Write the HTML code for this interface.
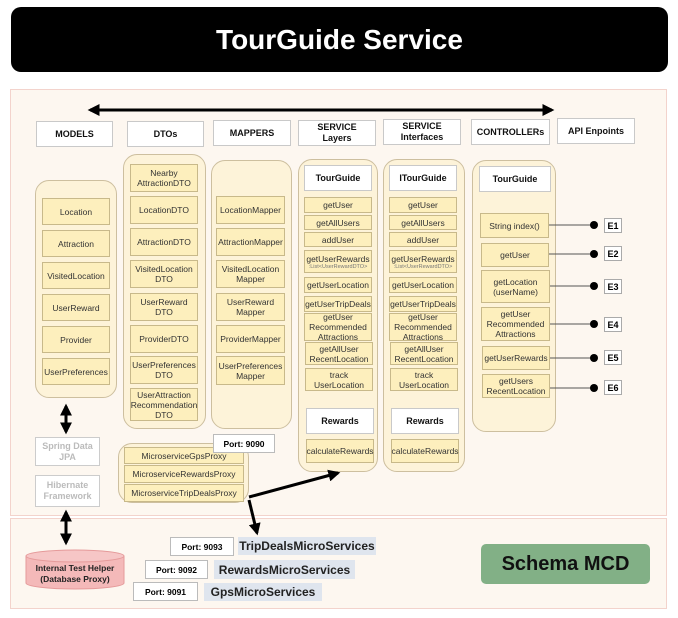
<!DOCTYPE html>
<html><head><meta charset="utf-8"><style>
body{margin:0;width:678px;height:618px;background:#fff;position:relative;overflow:hidden;font-family:"Liberation Sans",Arial,sans-serif}
div{position:absolute;box-sizing:border-box}
.c{display:flex;align-items:center;justify-content:center;text-align:center}
.h{background:#fff;border:1.5px solid #c9c9c9;font-weight:bold;font-size:9px;color:#111;line-height:11px}
.ct{background:#fdf3d9;border:1px solid #cdbf9f;border-radius:14px}
.b{background:#fdefbd;border:1.5px solid #c8b98a;font-size:8.5px;color:#333;line-height:10px}
.e{background:#fff;border:1.5px solid #aaa;font-size:9px;font-weight:bold;width:18px;height:15px}
.p{background:#fff;border:1.5px solid #bbb;font-size:8.5px;font-weight:bold}
.ms{background:#dfe5ee;font-size:12px;font-weight:bold;color:#222}
</style></head><body>
<div class="c" style="left:11px;top:7px;width:657px;height:65px;background:#000;border-radius:10px;color:#fff;font-weight:bold;font-size:28px">TourGuide Service</div>
<div style="left:10px;top:89px;width:657px;height:427px;background:#fdf7f0;border:1.5px solid #f3d3cc"></div>
<div style="left:10px;top:518px;width:657px;height:91px;background:#fdf7f0;border:1.5px solid #f3d3cc"></div>

<div class="c h" style="left:36px;top:121px;width:77px;height:26px">MODELS</div>
<div class="c h" style="left:127px;top:121px;width:77px;height:26px">DTOs</div>
<div class="c h" style="left:213px;top:120px;width:78px;height:26px">MAPPERS</div>
<div class="c h" style="left:298px;top:120px;width:78px;height:26px">SERVICE<br>Layers</div>
<div class="c h" style="left:383px;top:119px;width:78px;height:26px">SERVICE<br>Interfaces</div>
<div class="c h" style="left:471px;top:119px;width:79px;height:26px">CONTROLLERs</div>
<div class="c h" style="left:557px;top:118px;width:78px;height:26px">API Enpoints</div>

<div class="ct" style="left:35px;top:180px;width:82px;height:218px"></div>
<div class="c b" style="left:42px;top:198px;width:68px;height:27px">Location</div>
<div class="c b" style="left:42px;top:230px;width:68px;height:27px">Attraction</div>
<div class="c b" style="left:42px;top:262px;width:68px;height:27px">VisitedLocation</div>
<div class="c b" style="left:42px;top:294px;width:68px;height:27px">UserReward</div>
<div class="c b" style="left:42px;top:326px;width:68px;height:27px">Provider</div>
<div class="c b" style="left:42px;top:358px;width:68px;height:27px">UserPreferences</div>

<div class="ct" style="left:123px;top:154px;width:83px;height:275px"></div>
<div class="c b" style="left:130px;top:164px;width:68px;height:28px">Nearby<br>AttractionDTO</div>
<div class="c b" style="left:130px;top:196px;width:68px;height:28px">LocationDTO</div>
<div class="c b" style="left:130px;top:228px;width:68px;height:28px">AttractionDTO</div>
<div class="c b" style="left:130px;top:260px;width:68px;height:28px">VisitedLocation<br>DTO</div>
<div class="c b" style="left:130px;top:293px;width:68px;height:28px">UserReward<br>DTO</div>
<div class="c b" style="left:130px;top:325px;width:68px;height:28px">ProviderDTO</div>
<div class="c b" style="left:130px;top:356px;width:68px;height:28px">UserPreferences<br>DTO</div>
<div class="c b" style="left:130px;top:388px;width:68px;height:33px">UserAttraction<br>Recommendation<br>DTO</div>

<div class="ct" style="left:211px;top:160px;width:81px;height:269px"></div>
<div class="c b" style="left:216px;top:196px;width:69px;height:28px">LocationMapper</div>
<div class="c b" style="left:216px;top:228px;width:69px;height:28px">AttractionMapper</div>
<div class="c b" style="left:216px;top:260px;width:69px;height:28px">VisitedLocation<br>Mapper</div>
<div class="c b" style="left:216px;top:293px;width:69px;height:28px">UserReward<br>Mapper</div>
<div class="c b" style="left:216px;top:325px;width:69px;height:28px">ProviderMapper</div>
<div class="c b" style="left:216px;top:356px;width:69px;height:29px">UserPreferences<br>Mapper</div>

<div class="ct" style="left:298px;top:159px;width:80px;height:313px"></div>
<div class="ct" style="left:383px;top:159px;width:82px;height:313px"></div>
<div class="c h" style="left:304px;top:165px;width:68px;height:26px">TourGuide</div>
<div class="c h" style="left:389px;top:165px;width:68px;height:26px">ITourGuide</div>
<div class="c b" style="left:304px;top:197px;width:68px;height:16px">getUser</div>
<div class="c b" style="left:389px;top:197px;width:68px;height:16px">getUser</div>
<div class="c b" style="left:304px;top:215px;width:68px;height:15px">getAllUsers</div>
<div class="c b" style="left:389px;top:215px;width:68px;height:15px">getAllUsers</div>
<div class="c b" style="left:304px;top:232px;width:68px;height:15px">addUser</div>
<div class="c b" style="left:389px;top:232px;width:68px;height:15px">addUser</div>
<div class="c b" style="left:304px;top:250px;width:68px;height:23px;flex-direction:column">getUserRewards<span style="font-size:5.5px;line-height:6px;color:#777;white-space:nowrap">:List&lt;UserRewardDTO&gt;</span></div>
<div class="c b" style="left:389px;top:250px;width:68px;height:23px;flex-direction:column">getUserRewards<span style="font-size:5.5px;line-height:6px;color:#777;white-space:nowrap">:List&lt;UserRewardDTO&gt;</span></div>
<div class="c b" style="left:304px;top:277px;width:68px;height:16px">getUserLocation</div>
<div class="c b" style="left:389px;top:277px;width:68px;height:16px">getUserLocation</div>
<div class="c b" style="left:304px;top:296px;width:68px;height:16px">getUserTripDeals</div>
<div class="c b" style="left:389px;top:296px;width:68px;height:16px">getUserTripDeals</div>
<div class="c b" style="left:304px;top:313px;width:68px;height:28px">getUser<br>Recommended<br>Attractions</div>
<div class="c b" style="left:389px;top:313px;width:68px;height:28px">getUser<br>Recommended<br>Attractions</div>
<div class="c b" style="left:305px;top:342px;width:68px;height:23px">getAllUser<br>RecentLocation</div>
<div class="c b" style="left:390px;top:342px;width:68px;height:23px">getAllUser<br>RecentLocation</div>
<div class="c b" style="left:305px;top:368px;width:68px;height:23px">track<br>UserLocation</div>
<div class="c b" style="left:390px;top:368px;width:68px;height:23px">track<br>UserLocation</div>
<div class="c h" style="left:306px;top:408px;width:68px;height:26px">Rewards</div>
<div class="c h" style="left:391px;top:408px;width:68px;height:26px">Rewards</div>
<div class="c b" style="left:306px;top:439px;width:68px;height:24px">calculateRewards</div>
<div class="c b" style="left:391px;top:439px;width:68px;height:24px">calculateRewards</div>

<div class="ct" style="left:472px;top:160px;width:84px;height:272px"></div>
<div class="c h" style="left:479px;top:166px;width:72px;height:26px">TourGuide</div>
<div class="c b" style="left:480px;top:213px;width:69px;height:25px">String index()</div>
<div class="c b" style="left:481px;top:243px;width:68px;height:24px">getUser</div>
<div class="c b" style="left:481px;top:270px;width:69px;height:33px">getLocation<br>(userName)</div>
<div class="c b" style="left:481px;top:307px;width:69px;height:34px">getUser<br>Recommended<br>Attractions</div>
<div class="c b" style="left:482px;top:346px;width:68px;height:24px">getUserRewards</div>
<div class="c b" style="left:482px;top:374px;width:68px;height:24px">getUsers<br>RecentLocation</div>
<div class="c e" style="left:604px;top:218px">E1</div>
<div class="c e" style="left:604px;top:246px">E2</div>
<div class="c e" style="left:604px;top:279px">E3</div>
<div class="c e" style="left:604px;top:317px">E4</div>
<div class="c e" style="left:604px;top:350px">E5</div>
<div class="c e" style="left:604px;top:380px">E6</div>

<div class="ct" style="left:118px;top:443px;width:131px;height:60px"></div>
<div class="c b" style="left:124px;top:447px;width:120px;height:17px">MicroserviceGpsProxy</div>
<div class="c b" style="left:124px;top:465px;width:120px;height:18px">MicroserviceRewardsProxy</div>
<div class="c b" style="left:124px;top:484px;width:120px;height:18px">MicroserviceTripDealsProxy</div>
<div class="c p" style="left:213px;top:434px;width:62px;height:19px">Port: 9090</div>

<div class="c h" style="left:35px;top:437px;width:65px;height:29px;color:#bbb;border-color:#ccc">Spring Data<br>JPA</div>
<div class="c h" style="left:35px;top:475px;width:65px;height:32px;color:#bbb;border-color:#ccc">Hibernate<br>Framework</div>

<div class="c p" style="left:170px;top:537px;width:64px;height:19px">Port: 9093</div>
<div class="c ms" style="left:238px;top:537px;width:138px;height:18px">TripDealsMicroServices</div>
<div class="c p" style="left:145px;top:560px;width:63px;height:19px">Port: 9092</div>
<div class="c ms" style="left:214px;top:560px;width:141px;height:19px">RewardsMicroServices</div>
<div class="c p" style="left:133px;top:582px;width:65px;height:19px">Port: 9091</div>
<div class="c ms" style="left:204px;top:583px;width:118px;height:18px">GpsMicroServices</div>
<div class="c" style="left:481px;top:544px;width:169px;height:40px;background:#82b086;border-radius:5px;font-weight:bold;font-size:20px;color:#111">Schema MCD</div>

<svg width="678" height="618" style="position:absolute;left:0;top:0">
<defs><marker id="a" viewBox="0 0 10 10" refX="8" refY="5" markerWidth="4" markerHeight="4" orient="auto-start-reverse"><path d="M0,0L10,5L0,10z" fill="#000"/></marker></defs>
<line x1="90" y1="110" x2="552" y2="110" stroke="#000" stroke-width="3" marker-start="url(#a)" marker-end="url(#a)"/>
<line x1="66" y1="406" x2="66" y2="432" stroke="#000" stroke-width="3" marker-start="url(#a)" marker-end="url(#a)"/>
<line x1="66" y1="512" x2="66" y2="543" stroke="#000" stroke-width="3" marker-start="url(#a)" marker-end="url(#a)"/>
<line x1="249" y1="497" x2="338" y2="473" stroke="#000" stroke-width="3" marker-end="url(#a)"/>
<line x1="249" y1="500" x2="257" y2="533" stroke="#000" stroke-width="3" marker-end="url(#a)"/>
<g stroke="#555" stroke-width="1">
<line x1="549" y1="225" x2="594" y2="225"/><line x1="549" y1="254" x2="594" y2="254"/>
<line x1="550" y1="286" x2="594" y2="286"/><line x1="550" y1="324" x2="594" y2="324"/>
<line x1="550" y1="358" x2="594" y2="358"/><line x1="550" y1="388" x2="594" y2="388"/>
</g>
<g fill="#000"><circle cx="594" cy="225" r="4"/><circle cx="594" cy="254" r="4"/><circle cx="594" cy="286" r="4"/><circle cx="594" cy="324" r="4"/><circle cx="594" cy="358" r="4"/><circle cx="594" cy="388" r="4"/></g>
<path d="M26,556 L26,583 A49,6 0 0 0 124,583 L124,556" fill="#f4b9b9" stroke="#e59a9a"/>
<ellipse cx="75" cy="556" rx="49" ry="6" fill="#f6c6c6" stroke="#e59a9a"/>
<text x="75" y="571" font-size="8.5" font-weight="bold" text-anchor="middle" fill="#222" font-family="Liberation Sans">Internal Test Helper</text>
<text x="75" y="582" font-size="8.5" font-weight="bold" text-anchor="middle" fill="#222" font-family="Liberation Sans">(Database Proxy)</text>
</svg>
</body></html>
